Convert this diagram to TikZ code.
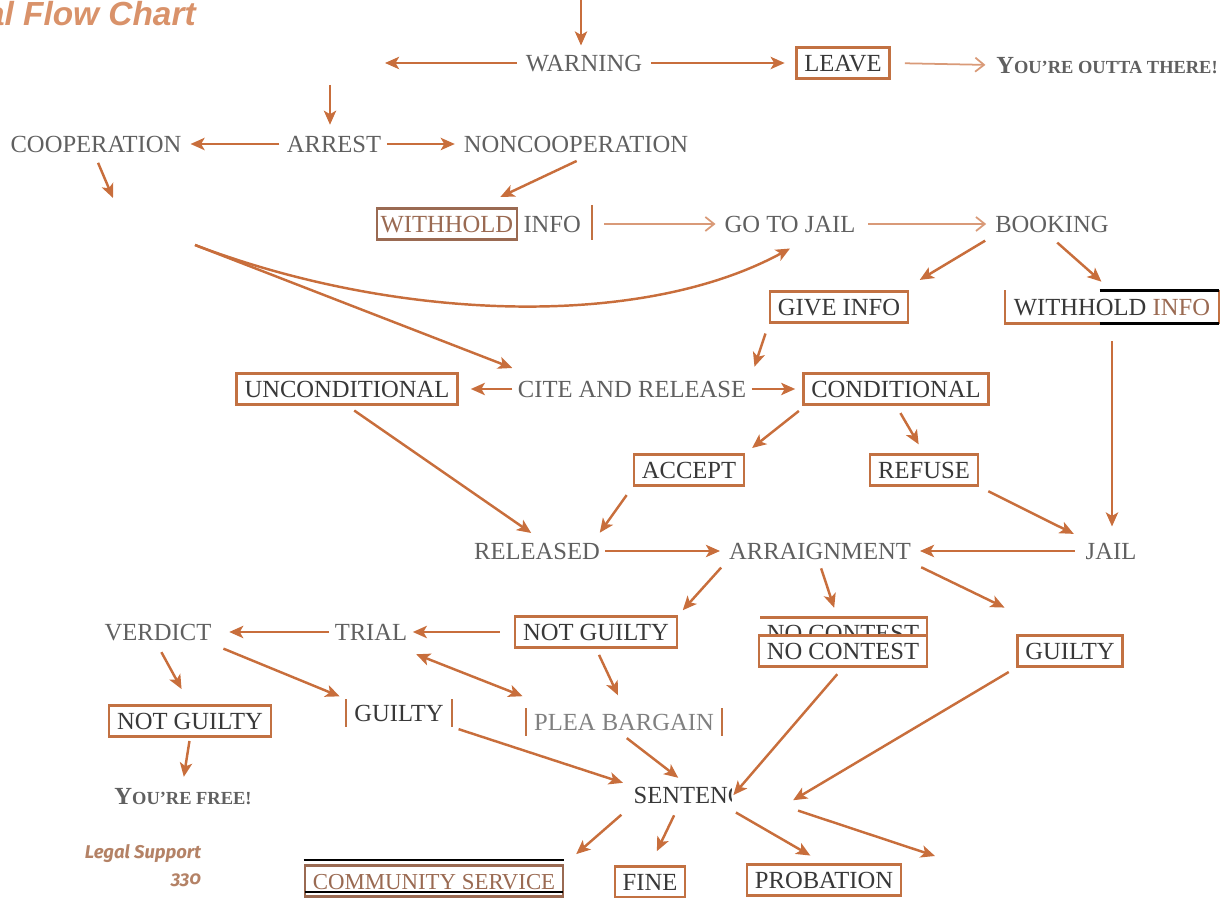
\documentclass[tikz,border=0pt]{standalone}
\usepackage{fontspec}
\setmainfont{Liberation Serif}
\newfontfamily\titlefont{Liberation Sans}
\newfontfamily\notefont[Numbers=OldStyle]{Fira Sans}
\usetikzlibrary{arrows.meta,positioning}
\definecolor{arrowc}{HTML}{C86E3C}
\definecolor{lightc}{HTML}{D99A78}
\definecolor{boxc}{HTML}{C27142}
\definecolor{brownc}{HTML}{9A6A52}
\definecolor{labelc}{HTML}{606060}
\definecolor{darkc}{HTML}{383838}
\definecolor{titlec}{HTML}{D9926A}
\definecolor{notec}{HTML}{B48266}
\newcommand{\fakesc}[2]{{\fontsize{14}{16}\selectfont #1}{\fontsize{10.5}{12}\selectfont #2}}
\begin{document}
\begin{tikzpicture}[x=0.02cm,y=-0.02cm,
  lbl/.style={font=\fontsize{14}{16}\selectfont,text=labelc,inner sep=3pt,text height=9.5pt,text depth=0pt},
  box/.style={lbl,text=darkc,draw=boxc,line width=1.3pt,fill=white,inner xsep=4.5pt,inner ysep=4pt},
  bar/.style={boxc,line width=1.3pt},
  flow/.style={arrowc,line width=1.4pt,-{Stealth[length=8pt,width=7pt,inset=2pt]}},
  thinflow/.style={lightc,line width=1pt,-{Straight Barb[length=5pt,width=8pt]}}]
\useasboundingbox (0,0) rectangle (1225,898);
% title and page note
\node[anchor=base east,inner sep=0pt,text=titlec,font=\titlefont\bfseries\itshape\fontsize{19}{22}\selectfont] (title) at (196,26) {Legal Flow Chart};
\node[text=notec,font=\notefont\bfseries\itshape\fontsize{10.5}{13}\selectfont] (note) at (143,854) {Legal Support};
\node[text=notec,font=\notefont\bfseries\itshape\fontsize{10.5}{13}\selectfont] (page) at (186,880) {330};
% first rows
\node[lbl] (warning) at (584,63) {WARNING};
\node[box] (leave) at (843,63) {LEAVE};
\node[lbl,text=labelc,font=\bfseries] (outta) at (1107,65) {\fakesc{Y}{OU'RE OUTTA THERE!}};
\node[lbl] (arrest) at (334,144) {ARREST};
\node[lbl] (coop) at (96,144) {COOPERATION};
\node[lbl] (noncoop) at (576,144) {NONCOOPERATION};
\node[box,draw=brownc,text=brownc,inner xsep=2pt] (wh1) at (447,224) {WITHHOLD};
\node[lbl,right=0pt of wh1] (wh2) {INFO};
\draw[bar] ([shift={(3pt,3pt)}]wh2.north east) -- ([shift={(3pt,-1pt)}]wh2.south east);
\node[lbl] (gojail) at (790,224) {GO TO JAIL};
\node[lbl] (booking) at (1052,224) {BOOKING};
\node[box] (giveinfo) at (839,307) {GIVE INFO};
\node[box,draw=none,fill=none] (wh3) at (1112,307) {WITHHOLD \textcolor{brownc}{INFO}};
\draw[bar] ([xshift=-7pt]wh3.south) -- (wh3.south west) -- (wh3.north west);
\draw[bar] (wh3.north east) -- (wh3.south east);
\draw[black,line width=1.5pt] ([xshift=-7pt]wh3.north) -- (wh3.north east);
\draw[black,line width=1.5pt] ([xshift=-7pt]wh3.south) -- (wh3.south east);
% cite and release
\node[lbl] (cite) at (632,389) {CITE AND RELEASE};
\node[box] (uncon) at (347,389) {UNCONDITIONAL};
\node[box] (cond) at (896,389) {CONDITIONAL};
\node[box] (accept) at (689,470) {ACCEPT};
\node[box] (refuse) at (924,470) {REFUSE};
\node[lbl] (released) at (537,551) {RELEASED};
\node[lbl] (arraign) at (820,551) {ARRAIGNMENT};
\node[lbl] (jail) at (1111,551) {JAIL};
% pleas
\node[box] (ng1) at (596,632) {NOT GUILTY};
\begin{scope}
\clip (760,614) rectangle (928,641);
\node[box] (ncghost) at (843,633) {NO CONTEST};
\end{scope}
\node[box] (nc) at (843,651) {NO CONTEST};
\node[box] (g2) at (1070,651) {GUILTY};
\node[lbl] (trial) at (371,632) {TRIAL};
\node[lbl] (verdict) at (158,632) {VERDICT};
\node[lbl,text=darkc,inner xsep=4.5pt] (g1) at (399,713) {GUILTY};
\draw[bar] (g1.north west) -- (g1.south west);
\draw[bar] (g1.north east) -- (g1.south east);
\node[lbl,text=gray,inner xsep=4.5pt] (plea) at (624,722) {PLEA BARGAIN};
\draw[bar] (plea.north west) -- (plea.south west);
\draw[bar] (plea.north east) -- (plea.south east);
\node[box] (ng2) at (190,721) {NOT GUILTY};
\node[lbl,text=labelc,font=\bfseries] (free) at (183,796) {\fakesc{Y}{OU’RE FREE!}};
\begin{scope}
\clip (620,775) rectangle (731,815);
\node[lbl,text=darkc,anchor=west] (sentence) at (628,795) {SENTENCE};
\end{scope}
% sentences
\node[box,draw=brownc,text=brownc,font=\fontsize{13}{15}\selectfont] (cs) at (434,881) {COMMUNITY SERVICE};
\draw[black,line width=1.5pt] ([yshift=2.5pt]cs.north west) -- ([yshift=2.5pt]cs.north east);
\draw[black,line width=1.2pt] ([shift={(1pt,3pt)}]cs.south west) -- ([shift={(-1pt,3pt)}]cs.south east);
\node[box] (fine) at (650,882) {FINE};
\node[box] (prob) at (824,880) {PROBATION};
% connectors
\coordinate (topin) at (581,0);
\coordinate (warnout) at (385,63);
\coordinate (arrin) at (330,85);
\coordinate (coopout) at (113,198);
\coordinate (coopin) at (195,245);
\coordinate (sentout) at (935,856);
\draw[flow,shorten >=2pt] (topin) -- (topin |- warning.north);
\draw[flow,shorten <=2pt] (warning.west) -- (warnout);
\draw[flow,shorten <=2pt,shorten >=6pt] (warning.east) -- (leave.west);
\draw[thinflow,shorten <=8pt,shorten >=3pt] (leave.east) -- (outta.west);
\draw[flow,shorten >=3pt] (arrin) -- (arrin |- arrest.north);
\draw[flow,shorten <=1pt,shorten >=2pt] (arrest.west) -- (coop.east);
\draw[flow,shorten >=2pt] (arrest.east) -- (noncoop.west);
\draw[flow,shorten <=3pt] (coop.south) -- (coopout);
\draw[flow,shorten <=4pt] ([xshift=4pt]noncoop.south) -- ([shift={(-10pt,6pt)}]wh1.north east);
\draw[thinflow,shorten <=10pt,shorten >=2pt] (wh2.east) -- (gojail.west);
\draw[thinflow,shorten <=4pt,shorten >=2pt] (gojail.east) -- (booking.west);
\draw[flow] (coopin) -- ([yshift=4pt]cite.north west);
\draw[flow] (coopin) .. controls (395,321) and (640,330) .. ([yshift=-6pt]gojail.south);
\draw[flow,shorten <=3pt] (booking.south west) -- ([shift={(6pt,6pt)}]giveinfo.north east);
\draw[flow,shorten <=4pt] (booking.south) -- ([shift={(-6pt,5pt)}]wh3.north);
\draw[flow,shorten <=10pt,shorten >=6pt] (wh3.south) -- (wh3.south |- jail.north);
\draw[flow,shorten <=6pt,shorten >=5pt] (giveinfo.south west) -- (cite.north east);
\draw[flow,shorten >=7pt] (cite.west) -- (uncon.east);
\draw[flow,shorten >=4pt] (cite.east) -- (cond.west);
\draw[flow,shorten <=5pt,shorten >=5pt] ([xshift=2pt]cond.south west) -- (accept.north east);
\draw[flow,shorten <=5pt,shorten >=6pt] (cond.south) -- (refuse.north);
\draw[flow,shorten <=5pt,shorten >=4pt] (uncon.south) -- (released.north);
\draw[flow,shorten <=6pt,shorten >=3pt] (accept.south west) -- ([xshift=-5pt]released.north east);
\draw[flow,shorten <=6pt,shorten >=4pt] (refuse.south east) -- (jail.north west);
\draw[flow,shorten >=2pt] (released.east) -- (arraign.west);
\draw[flow,shorten <=3pt,shorten >=2pt] (jail.west) -- (arraign.east);
\draw[flow,shorten <=2pt,shorten >=4pt] (arraign.south west) -- (ng1.north east);
\draw[flow,shorten <=2pt,shorten >=16pt] (arraign.south) -- (nc.north);
\draw[flow,shorten <=3pt,shorten >=3pt] (arraign.south east) -- ([shift={(-4pt,14pt)}]g2.north west);
\draw[flow,shorten <=8pt] (ng1.west) -- (trial.east);
\draw[flow,shorten >=7pt] (trial.west) -- (verdict.east);
\draw[flow,shorten <=4pt,shorten >=8pt] (ng1.south) -- (plea.north);
\draw[flow,{Stealth[length=8pt,width=7pt,inset=2pt]}-{Stealth[length=8pt,width=7pt,inset=2pt]},shorten <=2pt,shorten >=2pt] ([yshift=-4pt]trial.south east) -- ([yshift=6pt]plea.north west);
\draw[flow,shorten <=4pt,shorten >=10pt] (verdict.south) -- (ng2.north);
\draw[flow,shorten <=4pt,shorten >=4pt] (verdict.south east) -- (g1.north west);
\draw[flow,shorten <=2pt,shorten >=3pt] (ng2.south) -- (free.north);
\draw[flow,shorten <=4pt,shorten >=3pt] (g1.south east) -- ([yshift=6pt]sentence.west);
\draw[flow,shorten <=2pt,shorten >=3pt] (plea.south) -- ([xshift=-8pt]sentence.north);
\draw[flow,shorten <=5pt] (nc.south) -- ([shift={(-18pt,-8pt)}]sentence.north east);
\draw[flow,shorten <=5pt] (g2.south west) -- ([shift={(16pt,-3pt)}]sentence.east);
\draw[flow,shorten <=5pt,shorten >=9pt] (sentence.south west) -- (cs.north east);
\draw[flow,shorten <=4pt,shorten >=9pt] ([xshift=-11pt]sentence.south) -- (fine.north);
\draw[flow,shorten <=4pt,shorten >=9pt] ([xshift=-20pt]sentence.south east) -- (prob.north);
\draw[flow,shorten <=3pt] ([xshift=16pt]sentence.south east) -- (sentout);
\end{tikzpicture}
\end{document}
